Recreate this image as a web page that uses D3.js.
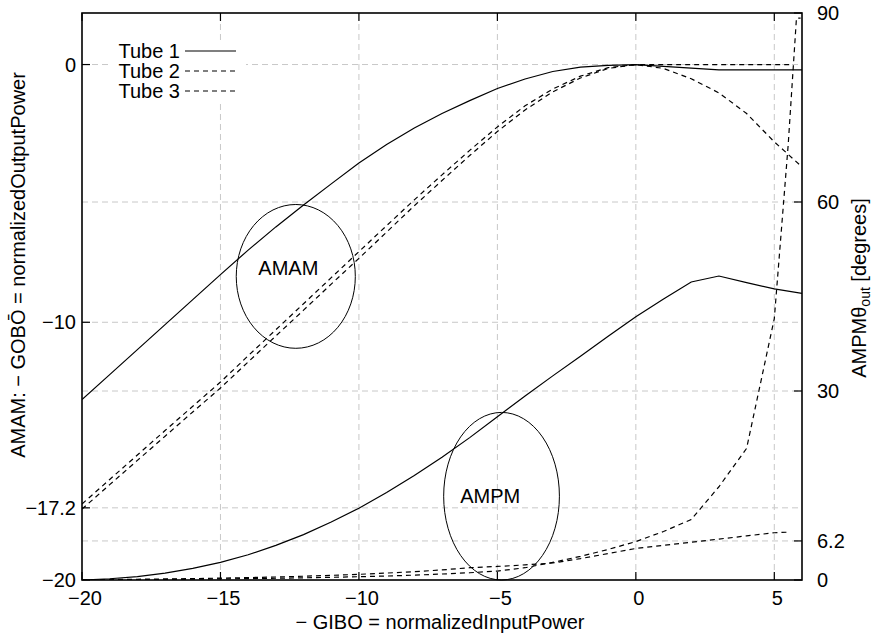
<!DOCTYPE html>
<html>
<head>
<meta charset="utf-8">
<script src="https://cdn.jsdelivr.net/npm/d3@7"></script>
<style>
  body { margin: 0; background: #fff; }
  text { font-family: "Liberation Sans", Arial, sans-serif; fill: #000; }
</style>
</head>
<body>
<div id="chart"></div>
<script>
width = 876
height = 635

// plot frame in pixels
margin = {top: 13, right: 74, bottom: 55, left: 82}

// tick values
const xTicks = [-20, -15, -10, -5, 0, 5]
const yLeftTicks = [-20, -17.2, -10, 0]
const yRightTicks = [0, 6.2, 30, 60, 90]

// series (input back-off in dB)
const tube1X    = [-20,-19,-18,-17,-16,-15,-14,-13,-12,-11,-10,-9,-8,-7,-6,-5,-4,-3,-2,-1,0,1,2,3,4,5,6]
const tube1Amam = [-13.0,-12.03,-11.06,-10.09,-9.12,-8.15,-7.2,-6.3,-5.45,-4.63,-3.82,-3.1,-2.46,-1.9,-1.4,-0.93,-0.56,-0.27,-0.1,-0.03,0,-0.07,-0.14,-0.21,-0.21,-0.21,-0.21]
const tube1Ampm = [0,0.2,0.55,1.1,1.85,2.8,4.0,5.5,7.2,9.2,11.4,13.9,16.6,19.5,22.6,25.9,29.2,32.4,35.5,38.7,41.8,44.6,47.3,48.25,47.2,46.2,45.5]

const tube2X    = [-20,-19,-18,-17,-16,-15,-14,-13,-12,-11,-10,-9,-8,-7,-6,-5,-4,-3,-2,-1,0,1,2,3,4,5,5.55]
const tube2Amam = [-17.05,-16.1,-15.15,-14.2,-13.26,-12.32,-11.3,-10.29,-9.28,-8.27,-7.26,-6.25,-5.25,-4.28,-3.33,-2.42,-1.6,-0.95,-0.45,-0.12,0,0,0,0,0,0,0]
const tube2Ampm = [0.05,0.08,0.12,0.17,0.22,0.3,0.38,0.48,0.6,0.74,0.9,1.1,1.33,1.6,1.95,2.15,2.4,2.7,3.4,4.2,5.0,5.5,6.0,6.5,7.0,7.5,7.6]

const tube3AmamX = [-20,-19,-18,-17,-16,-15,-14,-13,-12,-11,-10,-9,-8,-7,-6,-5,-4,-3,-2,-1,0,1,2,3,4,5,6]
const tube3Amam  = [-17.25,-16.3,-15.36,-14.42,-13.48,-12.55,-11.54,-10.53,-9.53,-8.52,-7.52,-6.5,-5.48,-4.5,-3.53,-2.6,-1.76,-1.06,-0.52,-0.15,0,-0.15,-0.55,-1.1,-1.9,-3.0,-3.97]
const tube3AmpmX = [-20,-19,-18,-17,-16,-15,-14,-13,-12,-11,-10,-9,-8,-7,-6,-5,-4,-3,-2,-1,0,1,2,3,4,5,5.5,5.8,5.95]
const tube3Ampm  = [0,0.02,0.05,0.08,0.12,0.17,0.22,0.28,0.35,0.43,0.52,0.63,0.77,0.95,1.15,1.42,1.95,2.8,3.75,4.85,6.1,7.7,9.6,14.8,20.9,41.5,69,89.2,89.2]

const legendNames = ["Tube 1", "Tube 2", "Tube 3"]

// annotation ellipses (data units)
const amamNote = {text: "AMAM", cx: -12.28, cy: -8.22, rx: 2.15, ry: 2.79, tx: -12.55, ty: -8.17}
const ampmNote = {text: "AMPM", cx: -4.85, cy: 13.3, rx: 2.09, ry: 13.3, tx: -5.26, ty: 12.3}

const svg = d3.select("#chart").append("svg")
    .attr("width", width)
    .attr("height", height)

const x = d3.scaleLinear().domain([-20, 6]).range([margin.left, width - margin.right])
const yL = d3.scaleLinear().domain([-20, 2]).range([height - margin.bottom, margin.top])
const yR = d3.scaleLinear().domain([0, 90]).range([height - margin.bottom, margin.top])

const x0 = x.range()[0], x1 = x.range()[1]
const y0 = yL.range()[0], y1 = yL.range()[1]

// grid
const grid = svg.append("g")
    .attr("stroke", "#c8c8c8")
    .attr("stroke-width", 1)
    .attr("stroke-dasharray", "6,4")
grid.selectAll(".vg").data(xTicks.filter(d => d > -20))
  .enter().append("line")
    .attr("x1", d => x(d)).attr("x2", d => x(d))
    .attr("y1", y0).attr("y2", y1)
grid.selectAll(".hl").data(yLeftTicks.filter(d => d > -20))
  .enter().append("line")
    .attr("x1", x0).attr("x2", x1)
    .attr("y1", d => yL(d)).attr("y2", d => yL(d))
grid.selectAll(".hr").data(yRightTicks.filter(d => d > 0 && d < 90))
  .enter().append("line")
    .attr("x1", x0).attr("x2", x1)
    .attr("y1", d => yR(d)).attr("y2", d => yR(d))

// key background hides the grid
svg.append("rect")
    .attr("x", 112).attr("y", 40)
    .attr("width", 134).attr("height", 64)
    .attr("fill", "#fff")

// curves
const lineL = (xs, ys) => d3.line().x((d, i) => x(xs[i])).y(d => yL(d))(ys)
const lineR = (xs, ys) => d3.line().x((d, i) => x(xs[i])).y(d => yR(d))(ys)

const series = [
  {d: lineL(tube1X, tube1Amam), dash: null},
  {d: lineR(tube1X, tube1Ampm), dash: null},
  {d: lineL(tube2X, tube2Amam), dash: "5,4"},
  {d: lineR(tube2X, tube2Ampm), dash: "5,4"},
  {d: lineL(tube3AmamX, tube3Amam), dash: "5,4"},
  {d: lineR(tube3AmpmX, tube3Ampm), dash: "5,4"}
]

svg.append("defs").append("clipPath").attr("id", "clip")
  .append("rect").attr("x", x0).attr("y", y1).attr("width", x1 - x0).attr("height", y0 - y1)

svg.append("g").attr("clip-path", "url(#clip)")
  .selectAll("path").data(series)
  .enter().append("path")
    .attr("d", d => d.d)
    .attr("fill", "none")
    .attr("stroke", "#000")
    .attr("stroke-width", 1.2)
    .attr("stroke-dasharray", d => d.dash)

// annotations
svg.append("ellipse")
    .attr("cx", x(amamNote.cx)).attr("cy", yL(amamNote.cy))
    .attr("rx", x(amamNote.cx + amamNote.rx) - x(amamNote.cx))
    .attr("ry", yL(amamNote.cy - amamNote.ry) - yL(amamNote.cy))
    .attr("fill", "none").attr("stroke", "#000").attr("stroke-width", 1)
svg.append("text")
    .attr("x", x(amamNote.tx)).attr("y", yL(amamNote.ty))
    .attr("text-anchor", "middle").attr("font-size", 20)
    .text(amamNote.text)

svg.append("ellipse")
    .attr("cx", x(ampmNote.cx)).attr("cy", yR(ampmNote.cy))
    .attr("rx", x(ampmNote.cx + ampmNote.rx) - x(ampmNote.cx))
    .attr("ry", yR(ampmNote.cy - ampmNote.ry) - yR(ampmNote.cy))
    .attr("fill", "none").attr("stroke", "#000").attr("stroke-width", 1)
svg.append("text")
    .attr("x", x(ampmNote.tx)).attr("y", yR(ampmNote.ty))
    .attr("text-anchor", "middle").attr("font-size", 20)
    .text(ampmNote.text)

// frame
svg.append("rect")
    .attr("x", x0).attr("y", y1)
    .attr("width", x1 - x0).attr("height", y0 - y1)
    .attr("fill", "none").attr("stroke", "#000").attr("stroke-width", 1.6)

const fmt = d => String(d).replace("-", "\u2212")
const tickLen = 8

// x ticks, bottom and mirrored on top
const xt = svg.append("g")
xt.selectAll(".b").data(xTicks).enter().append("line")
    .attr("x1", d => x(d)).attr("x2", d => x(d))
    .attr("y1", y0).attr("y2", y0 - tickLen)
    .attr("stroke", "#000").attr("stroke-width", 1.2)
xt.selectAll(".t").data(xTicks).enter().append("line")
    .attr("x1", d => x(d)).attr("x2", d => x(d))
    .attr("y1", y1).attr("y2", y1 + tickLen)
    .attr("stroke", "#000").attr("stroke-width", 1.2)
xt.selectAll("text").data(xTicks).enter().append("text")
    .attr("x", d => x(d) + 3).attr("y", y0 + 25)
    .attr("text-anchor", "middle").attr("font-size", 20)
    .text(fmt)

// left ticks
const yl = svg.append("g")
yl.selectAll("line").data(yLeftTicks).enter().append("line")
    .attr("x1", x0).attr("x2", x0 + tickLen)
    .attr("y1", d => yL(d)).attr("y2", d => yL(d))
    .attr("stroke", "#000").attr("stroke-width", 1.2)
yl.selectAll("text").data(yLeftTicks).enter().append("text")
    .attr("x", x0 - 6).attr("y", d => yL(d) + 7)
    .attr("text-anchor", "end").attr("font-size", 20)
    .text(fmt)

// right ticks
const yr = svg.append("g")
yr.selectAll("line").data(yRightTicks).enter().append("line")
    .attr("x1", x1).attr("x2", x1 - tickLen)
    .attr("y1", d => yR(d)).attr("y2", d => yR(d))
    .attr("stroke", "#000").attr("stroke-width", 1.2)
yr.selectAll("text").data(yRightTicks).enter().append("text")
    .attr("x", x1 + 15).attr("y", d => yR(d) + 7)
    .attr("text-anchor", "start").attr("font-size", 20)
    .text(fmt)

// axis titles
svg.append("text")
    .attr("transform", "translate(25,265) rotate(-90)")
    .attr("text-anchor", "middle").attr("font-size", 20)
    .text("AMAM: \u2212 GOBO\u0304 = normalizedOutputPower")

svg.append("text")
    .attr("x", 440).attr("y", 629)
    .attr("text-anchor", "middle").attr("font-size", 20)
    .text("\u2212 GIBO = normalizedInputPower")

const rt = svg.append("text")
    .attr("transform", "translate(866,288) rotate(-90)")
    .attr("text-anchor", "middle").attr("font-size", 20)
rt.append("tspan").text("AMPM\u03b8")
rt.append("tspan").attr("font-size", 14).attr("dy", 4).text("out")
rt.append("tspan").attr("dy", -4).text(" [degrees]")

// key
const key = svg.append("g").selectAll("g").data(legendNames)
  .enter().append("g")
    .attr("transform", (d, i) => `translate(0,${51 + i * 20})`)
key.append("text")
    .attr("x", 180).attr("y", 7)
    .attr("text-anchor", "end").attr("font-size", 20)
    .text(d => d)
key.append("line")
    .attr("x1", 185).attr("x2", 236)
    .attr("stroke", "#000").attr("stroke-width", 1.2)
    .attr("stroke-dasharray", (d, i) => i === 0 ? null : "5,4")
</script>
</body>
</html>
